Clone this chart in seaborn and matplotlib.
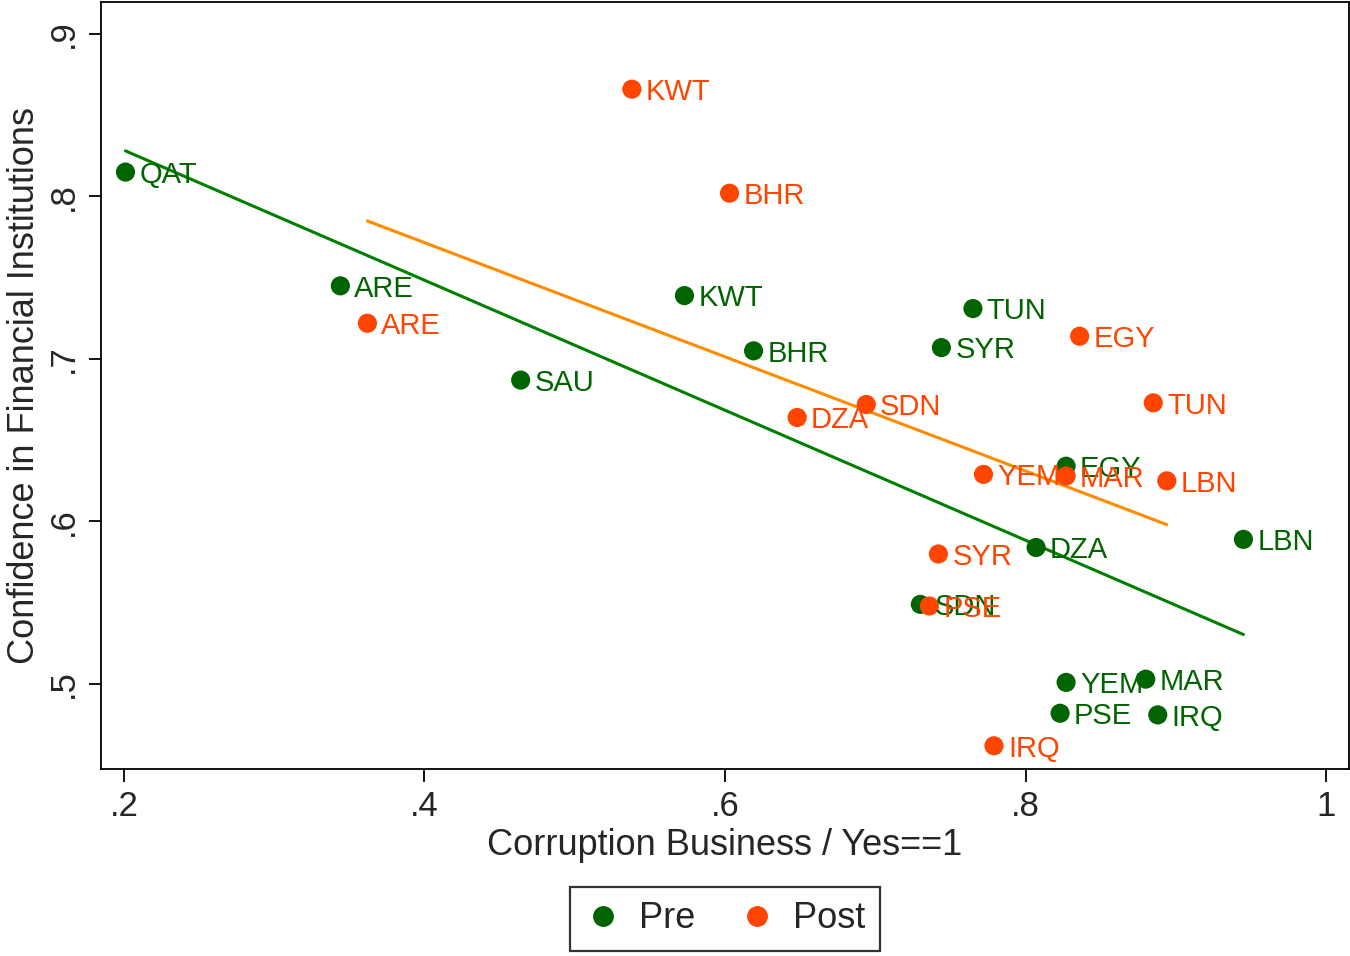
import numpy as np
import pandas as pd
import seaborn as sns
import matplotlib.pyplot as plt
from matplotlib.lines import Line2D

# Data
pre_country = ['QAT', 'ARE', 'SAU', 'KWT', 'BHR', 'TUN', 'SYR', 'EGY', 'DZA', 'LBN',
               'SDN', 'YEM', 'MAR', 'PSE', 'IRQ']
pre_corrupt = [0.201, 0.344, 0.464, 0.573, 0.619, 0.765, 0.744, 0.827, 0.807, 0.945,
               0.730, 0.827, 0.880, 0.823, 0.888]
pre_confid = [0.815, 0.745, 0.687, 0.739, 0.705, 0.731, 0.707, 0.634, 0.584, 0.589,
              0.549, 0.501, 0.503, 0.482, 0.481]

post_country = ['KWT', 'BHR', 'ARE', 'EGY', 'TUN', 'SDN', 'DZA', 'YEM', 'MAR', 'LBN',
                'SYR', 'PSE', 'IRQ']
post_corrupt = [0.538, 0.603, 0.362, 0.836, 0.885, 0.694, 0.648, 0.772, 0.827, 0.894,
                0.742, 0.736, 0.779]
post_confid = [0.866, 0.802, 0.722, 0.714, 0.673, 0.672, 0.664, 0.629, 0.628, 0.625,
               0.580, 0.548, 0.462]

pre = pd.DataFrame({'country': pre_country, 'x': pre_corrupt, 'y': pre_confid})
post = pd.DataFrame({'country': post_country, 'x': post_corrupt, 'y': post_confid})

green = '#006400'
orange = '#FF4500'
green_line = '#008000'
orange_line = '#FF8C00'

sns.set_style('ticks')
plt.rcParams['font.family'] = ['Liberation Sans', 'DejaVu Sans']

fig = plt.figure(figsize=(13.5, 9.56), dpi=100)
ax = fig.add_axes([0.0748, 0.1956, 0.9245, 0.8024])

# fitted lines
sns.regplot(data=pre, x='x', y='y', ax=ax, scatter=False, ci=None,
            color=green_line, line_kws={'lw': 2.2})
sns.regplot(data=post, x='x', y='y', ax=ax, scatter=False, ci=None,
            color=orange_line, line_kws={'lw': 2.2})

# points
sns.scatterplot(data=pre, x='x', y='y', ax=ax, color=green, s=190,
                edgecolor='none', zorder=3)
sns.scatterplot(data=post, x='x', y='y', ax=ax, color=orange, s=190,
                edgecolor='none', zorder=3)

# labels
for df, c in [(pre, green), (post, orange)]:
    for _, r in df.iterrows():
        ax.annotate(r['country'], (r['x'], r['y']), xytext=(10, -2),
                    textcoords='offset points', va='center', ha='left',
                    fontsize=21, color=c, zorder=4)

ax.set_xlim(0.1847, 1.0153)
ax.set_ylim(0.4477, 0.9197)
ax.set_xticks([0.2, 0.4, 0.6, 0.8, 1.0])
ax.set_xticklabels(['.2', '.4', '.6', '.8', '1'])
ax.set_yticks([0.5, 0.6, 0.7, 0.8, 0.9])
ax.set_yticklabels(['.5', '.6', '.7', '.8', '.9'], rotation=90, va='center')
ax.tick_params(labelsize=25, length=9, width=1.3, color='black', pad=6)
ax.set_xlabel('Corruption Business / Yes==1', fontsize=26, labelpad=4)
ax.set_ylabel('Confidence in Financial Institutions', fontsize=26, labelpad=4)
for s in ax.spines.values():
    s.set_visible(True)
    s.set_linewidth(1.3)
    s.set_color('black')

handles = [Line2D([], [], marker='o', ls='none', color=green, markersize=14),
           Line2D([], [], marker='o', ls='none', color=orange, markersize=14)]
leg = fig.legend(handles, ['Pre', 'Post'], loc='center',
                 bbox_to_anchor=(725 / 1350, 1 - 919 / 956), ncol=2,
                 fontsize=26, frameon=True, fancybox=False, edgecolor='black',
                 handletextpad=0.5, columnspacing=1.2, borderpad=0.4,
                 handlelength=1.0)
leg.get_frame().set_linewidth(1.6)

fig.savefig('out.png', dpi=100)
